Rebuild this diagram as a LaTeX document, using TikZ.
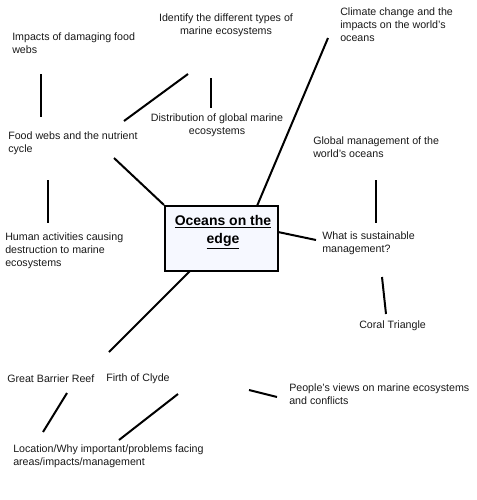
\documentclass[tikz,border=0pt]{standalone}
\usepackage{fontspec}
\setmainfont{Liberation Sans}
\begin{document}
\begin{tikzpicture}[x=0.75pt,y=-0.75pt,
  lbl/.style={anchor=west,align=left,inner sep=0pt,font=\fontsize{8.0}{9.75}\selectfont,text=black!90},
  clbl/.style={anchor=center,align=center,inner sep=0pt,font=\fontsize{8.0}{9.75}\selectfont,text=black!90},
  conn/.style={line width=1.5pt,black}]
\useasboundingbox (0,0) rectangle (477,500);
% central box
\node[draw=black,line width=1.5pt,fill={rgb,255:red,246;green,248;blue,255},minimum width=113*0.75pt,minimum height=65*0.75pt,inner sep=0pt] (box) at (221.5,238.5) {};
\node[align=center,inner sep=0pt,font=\fontsize{10.5}{13.5}\selectfont\bfseries] (title) at (223,232) {\underline{Oceans on the}\\[0pt]\underline{edge}};
% texts
\node[lbl] (impacts) at (12,43.5) {Impacts of damaging food\\webs};
\node[clbl] (identify) at (226,25.5) {Identify the different types of\\marine ecosystems};
\node[lbl] (climate) at (340,25) {Climate change and the\\impacts on the world's\\oceans};
\node[clbl] (distrib) at (217,125.5) {Distribution of global marine\\ecosystems};
\node[lbl] (food) at (8,143.5) {Food webs and the nutrient\\cycle};
\node[lbl] (global) at (313,147.5) {Global management of the\\world's oceans};
\node[lbl] (human) at (5,251) {Human activities causing\\destruction to marine\\ecosystems};
\node[lbl] (what) at (322,243) {What is sustainable\\management?};
\node[lbl] (coral) at (359,326) {Coral Triangle};
\node[lbl] (gbr) at (7,379) {Great Barrier Reef};
\node[lbl] (firth) at (106,379) {Firth of Clyde};
\node[lbl] (people) at (289,394.5) {People's views on marine ecosystems\\and conflicts};
\node[lbl] (location) at (13,456.5) {Location/Why important/problems facing\\areas/impacts/management};
% connector end points
\coordinate (a1) at (41,74); \coordinate (a2) at (41,117);
\coordinate (b1) at (124,121); \coordinate (b2) at (188,74);
\coordinate (c1) at (211,78); \coordinate (c2) at (211,108);
\coordinate (d1) at (328,38); \coordinate (d2) at (257,206);
\coordinate (e1) at (114,158);
\coordinate (f1) at (48,180); \coordinate (f2) at (48,223);
\coordinate (g1) at (376,180); \coordinate (g2) at (376,223);
\coordinate (h1) at (278,232); \coordinate (h2) at (316,240);
\coordinate (i1) at (382,277); \coordinate (i2) at (386,314);
\coordinate (j1) at (190,271); \coordinate (j2) at (109,352);
\coordinate (k1) at (67,393); \coordinate (k2) at (43,432);
\coordinate (l1) at (178,394); \coordinate (l2) at (119,440);
\coordinate (m1) at (249,390); \coordinate (m2) at (277,397);
% connectors
\draw[conn] (a1) -- (a2);
\draw[conn] (b1) -- (b2);
\draw[conn] (c1) -- (c2);
\draw[conn] (d1) -- (d2);
\draw[conn] (e1) -- (box.north west);
\draw[conn] (f1) -- (f2);
\draw[conn] (g1) -- (g2);
\draw[conn] (h1) -- (h2);
\draw[conn] (i1) -- (i2);
\draw[conn] (j1) -- (j2);
\draw[conn] (k1) -- (k2);
\draw[conn] (l1) -- (l2);
\draw[conn] (m1) -- (m2);
\end{tikzpicture}
\end{document}
